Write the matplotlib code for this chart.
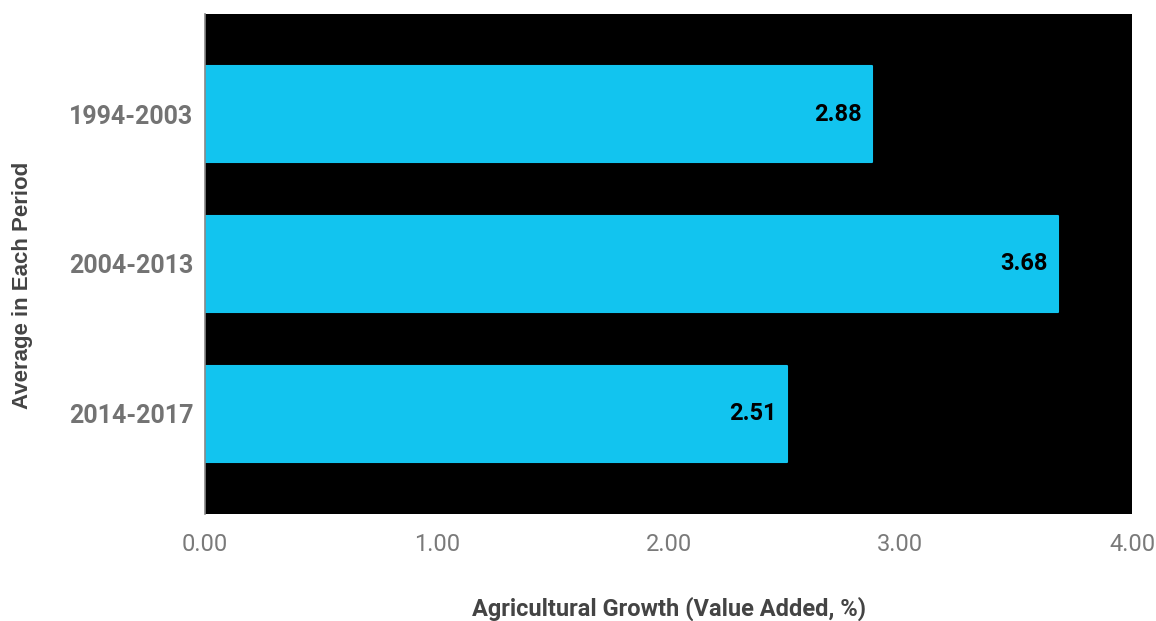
import matplotlib.pyplot as plt

# average agricultural growth per period
periods = ["1994-2003", "2004-2013", "2014-2017"]
growth = [2.88, 3.68, 2.51]
xticks = [0.0, 1.0, 2.0, 3.0, 4.0]

bar_color = "#12C4EF"

fig = plt.figure(figsize=(11.56, 6.21), dpi=100)
ax = fig.add_axes([0.1773, 0.1723, 0.802, 0.8052])
ax.set_facecolor("black")

ypos = range(len(periods))
bars = ax.barh(ypos, growth, height=0.64, color=bar_color,
               edgecolor=bar_color, linewidth=1.5, joinstyle="round")

for b, v in zip(bars, growth):
    ax.annotate(f"{v:.2f}", (v, b.get_y() + b.get_height() / 2),
                xytext=(-7.5, 0), textcoords="offset points",
                ha="right", va="center", fontsize=17,
                fontfamily="Roboto", fontweight="bold", color="black")

ax.set_xlim(0, 4)
ax.set_ylim(len(periods) - 1 + 0.667, -0.667)
ax.set_yticks(list(ypos))
ax.set_yticklabels(periods, fontfamily="Roboto", fontweight="bold",
                   fontsize=18, color="#737373")
ax.set_xticks(xticks)
ax.set_xticklabels([f"{t:.2f}" for t in xticks], fontfamily="Roboto",
                   fontsize=17, color="#7a7a7a")
ax.tick_params(axis="both", length=0)
ax.tick_params(axis="x", pad=14)
ax.tick_params(axis="y", pad=8.5)

for side in ["top", "right", "bottom"]:
    ax.spines[side].set_visible(False)
ax.spines["left"].set_color("#888888")
ax.spines["left"].set_linewidth(1.2)

ax.set_xlabel("Agricultural Growth (Value Added, %)", fontfamily="Roboto",
              fontweight="bold", fontsize=17, color="#444444")
ax.xaxis.set_label_coords(0.5, -0.166)
ax.set_ylabel("Average in Each Period", fontfamily="Liberation Sans",
              fontweight="bold", fontsize=16, color="#444444")
ax.yaxis.set_label_coords(-0.186, 0.458)

fig.savefig("out.png", dpi=100)
